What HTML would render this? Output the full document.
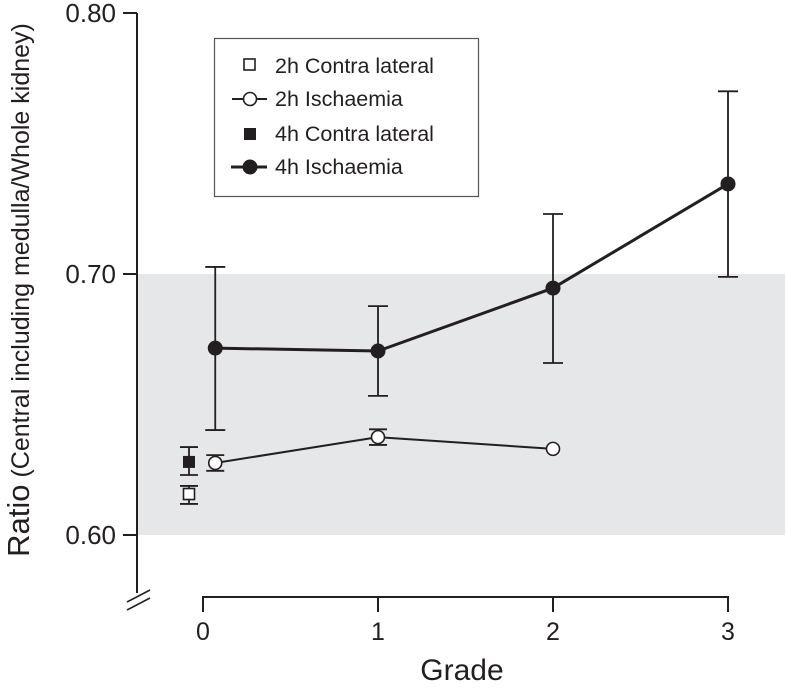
<!DOCTYPE html>
<html><head><meta charset="utf-8"><style>
body{margin:0;background:#fff;}
svg text{font-family:"Liberation Sans",Arial,sans-serif;fill:#231f20;}
</style></head><body>
<svg id="chart" width="786" height="685" viewBox="0 0 786 685" xmlns="http://www.w3.org/2000/svg">
<rect x="137" y="274" width="648" height="261" fill="#e6e7e8"/>
<g id="axes" stroke="#231f20" stroke-width="2" fill="none"></g>
<g id="marks"></g>
<text transform="translate(29,290) rotate(-90)" text-anchor="middle"><tspan font-size="31">Ratio</tspan><tspan font-size="25"> (Central including medulla/Whole kidney)</tspan></text>
<text x="462" y="680" font-size="30" text-anchor="middle">Grade</text>
<g>
<rect x="214.5" y="38.5" width="264" height="158" fill="#fff" stroke="#555" stroke-width="1.2"/>
<rect x="244" y="59" width="11" height="11" fill="#fff" stroke="#231f20" stroke-width="1.6"/>
<text x="275" y="73" font-size="21.5">2h Contra lateral</text>
<line x1="232" y1="99" x2="267" y2="99" stroke="#231f20" stroke-width="2"/>
<circle cx="250" cy="99" r="6.5" fill="#fff" stroke="#231f20" stroke-width="1.6"/>
<text x="275" y="106" font-size="21.5">2h Ischaemia</text>
<rect x="244" y="128" width="12" height="12" fill="#231f20"/>
<text x="275" y="141" font-size="21.5">4h Contra lateral</text>
<line x1="231" y1="167" x2="267" y2="167" stroke="#231f20" stroke-width="3"/>
<circle cx="250" cy="167" r="7.5" fill="#231f20"/>
<text x="275" y="174" font-size="21.5">4h Ischaemia</text>
</g>
</svg>
<script>
const yTicks=[0.60,0.70,0.80];
const yTickLabels=["0.60","0.70","0.80"];
const xTicks=[0,1,2,3];
const isch4Grades=[0.07,1,2,3];
const isch4Vals=[0.6716,0.6705,0.6946,0.7345];
const isch4Hi=[0.7027,0.6877,0.7230,0.7700];
const isch4Lo=[0.6402,0.6533,0.6659,0.6989];
const isch2Grades=[0.07,1,2];
const isch2Vals=[0.6276,0.6375,0.6330];
const isch2Err=[0.003,0.003,0];
const contra4Grade=[-0.08];
const contra4Vals=[0.628];
const contra4Hi=[0.6337];
const contra4Lo=[0.623];
const contra2Grade=[-0.08];
const contra2Vals=[0.6157];
const contra2Hi=[0.6188];
const contra2Lo=[0.6119];

const NS="http://www.w3.org/2000/svg";
const X=g=>203+g*175;
const Y=v=>535-(v-0.6)*2610;
const axes=document.getElementById('axes'), marks=document.getElementById('marks'), svg=document.getElementById('chart');
function mk(p,tag,a){const e=document.createElementNS(NS,tag);for(const k in a)e.setAttribute(k,a[k]);p.appendChild(e);return e;}
let e=mk(axes,'path',{d:`M137 ${Y(0.8)} V593`});


e=mk(axes,'path',{d:`M127 602 L150 590 M127 610 L150 598`,'stroke-width':1.6});


yTicks.forEach((t,i)=>{
 const l=mk(axes,'line',{x1:123,x2:137,y1:Y(t),y2:Y(t)});
 
 
 const tx=mk(svg,'text',{x:116,y:Y(t)+9,'font-size':26,'text-anchor':'end'});tx.textContent=yTickLabels[i];
 
 
});
e=mk(axes,'path',{d:`M${X(0)} 612 V597 H${X(3)} V612`});


xTicks.forEach(t=>{
 const l=mk(axes,'line',{x1:X(t),x2:X(t),y1:597,y2:612});
 
 
 const tx=mk(svg,'text',{x:X(t),y:640,'font-size':25,'text-anchor':'middle'});tx.textContent=t;
 
 
});
function err(x,hi,lo,w,sw){
 const p=mk(marks,'path',{d:`M${x} ${Y(hi)} V${Y(lo)} M${x-w} ${Y(hi)} H${x+w} M${x-w} ${Y(lo)} H${x+w}`,stroke:'#231f20','stroke-width':sw,fill:'none'});
 
 
}
isch4Grades.forEach((g,i)=>err(X(g),isch4Hi[i],isch4Lo[i],10,1.8));
e=mk(marks,'polyline',{points:isch4Grades.map((g,i)=>X(g)+','+Y(isch4Vals[i])).join(' '),fill:'none',stroke:'#231f20','stroke-width':3});


isch4Grades.forEach((g,i)=>{const c=mk(marks,'circle',{cx:X(g),cy:Y(isch4Vals[i]),r:7.5,fill:'#231f20'});
 
 });
isch2Grades.forEach((g,i)=>{if(isch2Err[i]>0)err(X(g),isch2Vals[i]+isch2Err[i],isch2Vals[i]-isch2Err[i],9,1.8);});
e=mk(marks,'polyline',{points:isch2Grades.map((g,i)=>X(g)+','+Y(isch2Vals[i])).join(' '),fill:'none',stroke:'#231f20','stroke-width':2});


isch2Grades.forEach((g,i)=>{const c=mk(marks,'circle',{cx:X(g),cy:Y(isch2Vals[i]),r:6.5,fill:'#fff',stroke:'#231f20','stroke-width':1.6});
 
 });
contra4Grade.forEach((g,i)=>{err(X(g),contra4Hi[i],contra4Lo[i],9,1.8);
 const r=mk(marks,'rect',{x:X(g)-6,y:Y(contra4Vals[i])-6,width:12,height:12,fill:'#231f20'});
 
 });
contra2Grade.forEach((g,i)=>{err(X(g),contra2Hi[i],contra2Lo[i],9,1.8);
 const r=mk(marks,'rect',{x:X(g)-5.5,y:Y(contra2Vals[i])-5.5,width:11,height:11,fill:'#fff',stroke:'#231f20','stroke-width':1.6});
 
 });
</script>
</body></html>
